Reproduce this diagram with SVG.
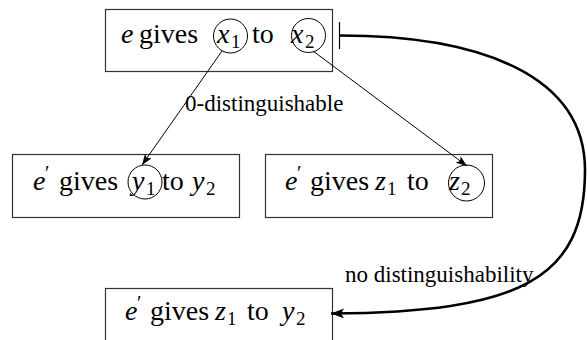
<svg xmlns="http://www.w3.org/2000/svg" width="587" height="340" viewBox="0 0 587 340">
<style>
.box{fill:#fff;stroke:#333;stroke-width:1.2}
.ring{fill:none;stroke:#000;stroke-width:1}
.thin{fill:none;stroke:#000;stroke-width:1}
.thick{fill:none;stroke:#000;stroke-width:2.6}
</style>
<defs>
<marker id="ah" markerWidth="12" markerHeight="8" refX="11" refY="4" orient="auto" markerUnits="userSpaceOnUse">
<path d="M0,0 L11,4 L0,8 L2.5,4 Z" fill="#000"/>
</marker>
<marker id="ahb" markerWidth="14" markerHeight="10" refX="13" refY="5" orient="auto" markerUnits="userSpaceOnUse">
<path d="M0,0 L13,5 L0,10 L3,5 Z" fill="#000"/>
</marker>
</defs>
<g id="top">
<rect class="box" x="105.5" y="9.5" width="227" height="62"/>
<circle class="ring" cx="230.5" cy="36" r="17"/>
<circle class="ring" cx="308.5" cy="35.5" r="17"/>
<text y="43" style="font-family:'Liberation Serif',serif;font-size:28px"><tspan x="121" font-style="italic">e</tspan><tspan x="139">gives</tspan><tspan x="217" font-style="italic">x</tspan><tspan x="231" dy="5" font-size="19">1</tspan><tspan x="252" dy="-5">to</tspan><tspan x="291" font-style="italic">x</tspan><tspan x="305" dy="5" font-size="19">2</tspan></text>
</g>
<g id="mid1">
<rect class="box" x="12.5" y="154.5" width="227" height="63"/>
<circle class="ring" cx="145" cy="182" r="17"/>
<text y="190" style="font-family:'Liberation Serif',serif;font-size:28px"><tspan x="33" font-style="italic">e</tspan><tspan x="45" dy="-10" font-size="20">′</tspan><tspan x="59" dy="10">gives</tspan><tspan x="132" font-style="italic">y</tspan><tspan x="146" dy="5" font-size="19">1</tspan><tspan x="162" dy="-5">to</tspan><tspan x="192" font-style="italic">y</tspan><tspan x="206" dy="5" font-size="19">2</tspan></text>
</g>
<g id="mid2">
<rect class="box" x="265.5" y="154.5" width="227" height="63"/>
<circle class="ring" cx="466.5" cy="183" r="18"/>
<text y="190" style="font-family:'Liberation Serif',serif;font-size:28px"><tspan x="285" font-style="italic">e</tspan><tspan x="297" dy="-10" font-size="20">′</tspan><tspan x="310" dy="10">gives</tspan><tspan x="375" font-style="italic">z</tspan><tspan x="387" dy="5" font-size="19">1</tspan><tspan x="407" dy="-5">to</tspan><tspan x="449" font-style="italic">z</tspan><tspan x="461" dy="5" font-size="19">2</tspan></text>
</g>
<g id="bottom">
<rect class="box" x="105.5" y="288.5" width="227" height="63"/>
<text y="320" style="font-family:'Liberation Serif',serif;font-size:28px"><tspan x="125" font-style="italic">e</tspan><tspan x="137" dy="-10" font-size="20">′</tspan><tspan x="150" dy="10">gives</tspan><tspan x="215" font-style="italic">z</tspan><tspan x="227" dy="5" font-size="19">1</tspan><tspan x="247" dy="-5">to</tspan><tspan x="282" font-style="italic">y</tspan><tspan x="296" dy="5" font-size="19">2</tspan></text>
</g>
<g id="connectors">
<line class="thin" x1="222" y1="51" x2="142" y2="165" marker-end="url(#ah)"/>
<line class="thin" x1="313" y1="51" x2="467" y2="166" marker-end="url(#ah)"/>
<line x1="339.5" y1="22" x2="339.5" y2="49" stroke="#000" stroke-width="1.2"/>
<path class="thick" d="M340,35.5 C480,35.5 585,75 585,170 C585,280 520,312 331,313.5" marker-end="url(#ahb)"/>
<text x="185" y="111" style="font-family:'Liberation Serif',serif;font-size:23px">0-distinguishable</text>
<text x="345" y="282" style="font-family:'Liberation Serif',serif;font-size:23px">no distinguishability</text>
</g>
</svg>
